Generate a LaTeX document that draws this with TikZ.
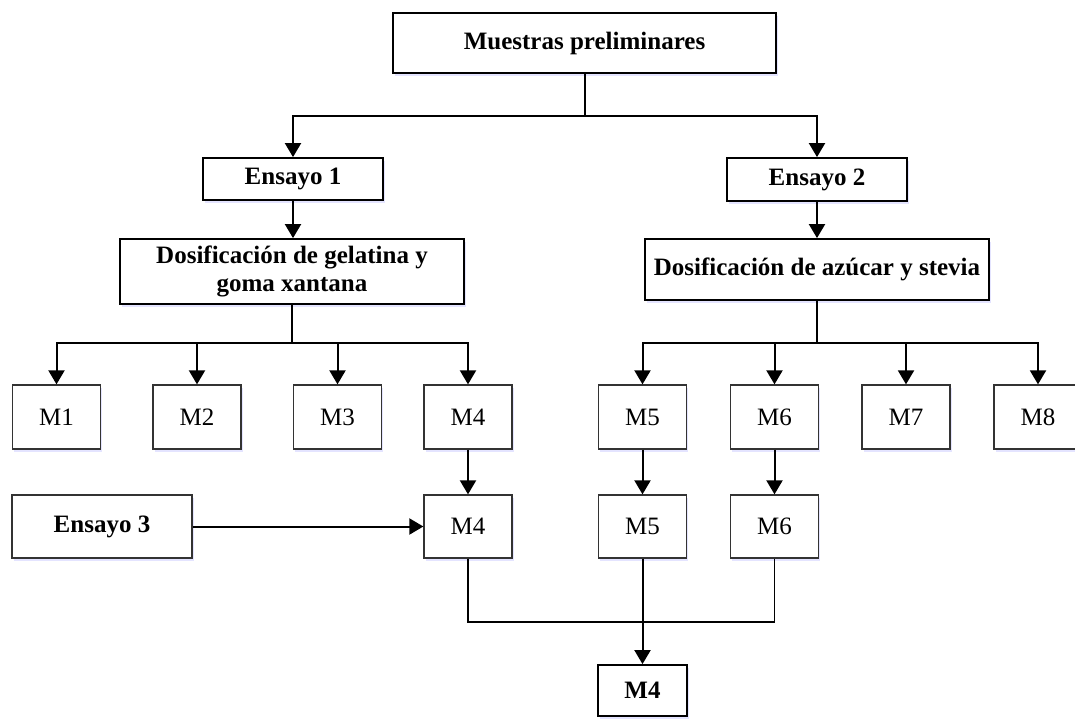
\documentclass[tikz,border=0pt]{standalone}
\usepackage{fontspec}
\setmainfont{Liberation Serif}
\usetikzlibrary{arrows.meta,shadows}
\begin{document}
\begin{tikzpicture}[x=1pt,y=-1pt,
  shadowed/.style={drop shadow={shadow xshift=1.5pt,shadow yshift=-2.5pt,fill=blue!30,opacity=0.35}},
  boldbox/.style={draw=black,line width=1.8pt,fill=white,shadowed,inner sep=0pt,
    font=\fontsize{25}{28}\selectfont\bfseries,align=center},
  mbox/.style={draw=black!80,line width=1.3pt,fill=white,shadowed,inner sep=0pt,
    minimum width=88pt,minimum height=64pt,font=\fontsize{25}{28}\selectfont},
  conn/.style={line width=2pt,draw=black},
  thinconn/.style={line width=1.6pt,draw=black},
  arr/.style={conn,-{Triangle[length=14pt,width=16pt]}}
]
\useasboundingbox (0,0) rectangle (1075,726);
\fill[white] (0,0) rectangle (1075,726);

% top level
\node[boldbox,minimum width=383pt,minimum height=60pt] (top) at (584.5,43) {Muestras preliminares};
\node[boldbox,minimum width=180pt,minimum height=42pt] (e1) at (293,179) {Ensayo 1};
\node[boldbox,minimum width=180pt,minimum height=43pt] (e2) at (817,179.5) {Ensayo 2};
\node[boldbox,minimum width=344pt,minimum height=65pt] (d1) at (292,271.5) {Dosificación de gelatina y\\goma xantana};
\node[boldbox,minimum width=344pt,minimum height=61pt] (d2) at (817,269.5) {Dosificación de azúcar y stevia};

% first row
\node[mbox] (m1) at (56.5,417) {M1};
\node[mbox] (m2) at (197,417) {M2};
\node[mbox] (m3) at (337.5,417) {M3};
\node[mbox] (m4) at (468,417) {M4};
\node[mbox] (m5) at (642.5,417) {M5};
\node[mbox] (m6) at (774.5,417) {M6};
\node[mbox] (m7) at (906,417) {M7};
\node[mbox] (m8) at (1038,417) {M8};

% second row
\node[mbox,minimum width=180pt,minimum height=63pt,font=\fontsize{25}{28}\selectfont\bfseries] (e3) at (102,526.5) {Ensayo 3};
\node[mbox,minimum height=63pt] (m4b) at (468,526.5) {M4};
\node[mbox,minimum height=63pt] (m5b) at (642.5,526.5) {M5};
\node[mbox,minimum height=63pt] (m6b) at (774.5,526.5) {M6};

% final
\node[boldbox,minimum width=89pt,minimum height=51pt] (fin) at (642.5,690.5) {M4};

% junctions
\coordinate (j1) at (584.5,116);
\coordinate (j2) at (292,343);
\coordinate (j3) at (817,343);
\coordinate (j4) at (642.5,622);

% connectors
\draw[conn] (top.south) -- (j1);
\draw[arr] (j1) -| (e1.north);
\draw[arr] (j1) -| (e2.north);
\draw[arr] (e1.south) -- (d1.north -| e1.south);
\draw[arr] (e2.south) -- (d2.north);

\draw[conn] (d1.south) -- (j2);
\draw[arr] (j2) -| (m1.north);
\draw[arr] (j2) -| (m2.north);
\draw[arr] (j2) -| (m3.north);
\draw[arr] (j2) -| (m4.north);

\draw[conn] (d2.south) -- (j3);
\draw[arr] (j3) -| (m5.north);
\draw[arr] (j3) -| (m6.north);
\draw[arr] (j3) -| (m7.north);
\draw[arr] (j3) -| (m8.north);

\draw[arr] (m4.south) -- (m4b.north);
\draw[arr] (m5.south) -- (m5b.north);
\draw[arr] (m6.south) -- (m6b.north);
\draw[arr] (e3.east) -- (m4b.west);

\draw[thinconn] (m4b.south) |- (j4);
\draw[thinconn] (m6b.south) |- (j4);
\draw[arr] (m5b.south) -- (fin.north);
\end{tikzpicture}
\end{document}
